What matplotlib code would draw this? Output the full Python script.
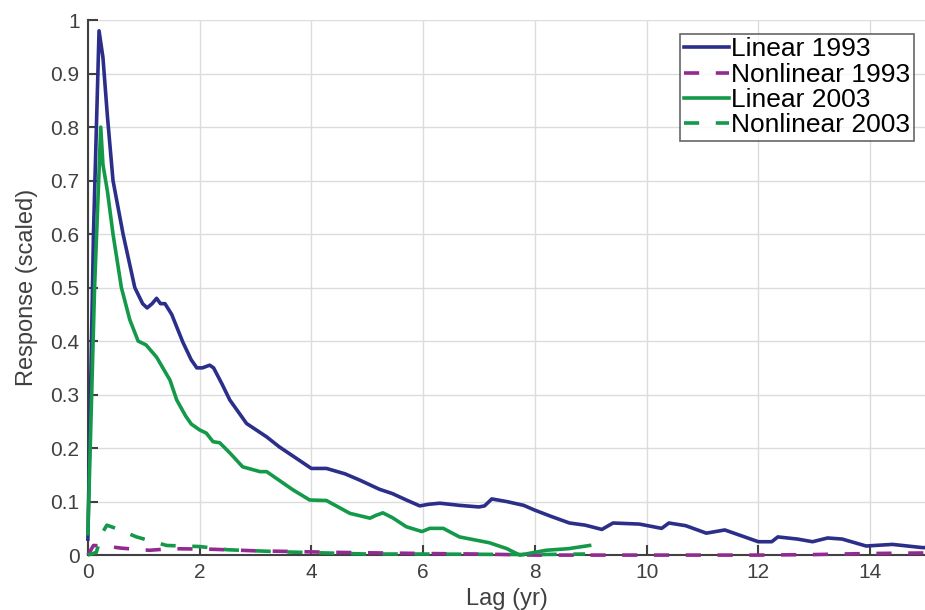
import numpy as np
import matplotlib
matplotlib.use("Agg")
import matplotlib.pyplot as plt

plt.rcParams['font.family'] = ['Liberation Sans', 'DejaVu Sans']

# Linear 1993
lin93_x = [0.0, 0.1, 0.2, 0.27, 0.35, 0.45, 0.63, 0.84, 0.98, 1.06, 1.15, 1.23, 1.3, 1.38, 1.5,
           1.7, 1.85, 1.95, 2.05, 2.18, 2.25, 2.4, 2.54, 2.84, 3.2, 3.43, 3.73, 4.0, 4.27, 4.6,
           4.87, 5.22, 5.45, 5.7, 5.94, 6.1, 6.3, 6.65, 7.0, 7.1, 7.23, 7.5, 7.8, 8.0, 8.3, 8.62,
           8.9, 9.2, 9.4, 9.87, 10.27, 10.4, 10.7, 11.07, 11.4, 11.7, 12.0, 12.24, 12.35, 12.7,
           12.97, 13.24, 13.5, 13.93, 14.4, 14.94, 15.0]
lin93_y = [0.03, 0.6, 0.98, 0.93, 0.82, 0.7, 0.6, 0.5, 0.47, 0.462, 0.47, 0.48, 0.47, 0.47, 0.45,
           0.398, 0.365, 0.35, 0.35, 0.355, 0.35, 0.32, 0.29, 0.246, 0.221, 0.202, 0.181, 0.162, 0.162, 0.152,
           0.14, 0.123, 0.115, 0.103, 0.092, 0.095, 0.097, 0.093, 0.09, 0.092, 0.105, 0.1, 0.093, 0.084, 0.072, 0.06,
           0.056, 0.048, 0.06, 0.058, 0.05, 0.06, 0.055, 0.041, 0.047, 0.036, 0.025, 0.025, 0.034, 0.03,
           0.025, 0.032, 0.03, 0.017, 0.02, 0.014, 0.014]

# Nonlinear 1993
nl93_x = [0.0, 0.1, 0.3, 0.6, 1.1, 1.5, 2.2, 3.0, 4.5, 6.0, 7.0, 8.0, 10.0, 12.0, 13.0, 14.0, 15.0]
nl93_y = [0.0, 0.018, 0.017, 0.013, 0.009, 0.012, 0.011, 0.008, 0.005, 0.003, 0.002, 0.0, 0.0, 0.0, 0.001, 0.003, 0.004]

# Linear 2003
lin03_x = [0.0, 0.12, 0.23, 0.27, 0.35, 0.45, 0.6, 0.75, 0.9, 1.04, 1.23, 1.47, 1.59, 1.75, 1.85,
           2.0, 2.12, 2.24, 2.36, 2.55, 2.77, 3.08, 3.2, 3.67, 3.97, 4.27, 4.69, 5.05, 5.15, 5.28,
           5.45, 5.7, 5.98, 6.12, 6.36, 6.65, 7.19, 7.5, 7.73, 8.2, 8.6, 8.98]
lin03_y = [0.04, 0.5, 0.8, 0.73, 0.68, 0.6, 0.5, 0.44, 0.4, 0.393, 0.37, 0.327, 0.29, 0.26, 0.245,
           0.234, 0.228, 0.212, 0.21, 0.19, 0.165, 0.156, 0.156, 0.122, 0.103, 0.102, 0.078, 0.069, 0.074, 0.079,
           0.07, 0.053, 0.044, 0.05, 0.05, 0.034, 0.023, 0.012, 0.0, 0.009, 0.012, 0.018]

# Nonlinear 2003
nl03_x = [0.0, 0.15, 0.25, 0.34, 0.5, 0.87, 1.41, 2.0, 2.5, 3.5, 5.0, 6.0, 8.0, 8.9]
nl03_y = [0.0, 0.005, 0.04, 0.056, 0.05, 0.034, 0.018, 0.016, 0.01, 0.006, 0.002, 0.002, 0.001, 0.002]

labels = ['Linear 1993', 'Nonlinear 1993', 'Linear 2003', 'Nonlinear 2003']
blue = '#2b2f8a'
purple = '#932a91'
green = '#14994a'

fig = plt.figure(figsize=(9.25, 6.1), dpi=100)
ax = fig.add_axes([0.095, 0.09, 0.906, 0.877])

lw = 2.6
dash = (4.2, 4.6)
kw = dict(lw=lw, zorder=3, clip_on=False)
ax.plot(lin93_x, lin93_y, color=blue, label=labels[0], **kw)
ax.plot(nl93_x, nl93_y, color=purple, dashes=dash, label=labels[1], **kw)
ax.plot(lin03_x, lin03_y, color=green, label=labels[2], **kw)
ax.plot(nl03_x, nl03_y, color=green, dashes=dash, label=labels[3], **kw)

ax.set_xlim(0, 15)
ax.set_ylim(0, 1)
ax.set_xticks(np.arange(0, 15, 2))
ax.set_yticks(np.arange(0, 1.01, 0.1))
ax.set_yticklabels(['0'] + ['%.1f' % v for v in np.arange(0.1, 0.95, 0.1)] + ['1'])
ax.grid(True, color='#dcdcdc', lw=1)
ax.set_axisbelow(True)
for s in ['top', 'right']:
    ax.spines[s].set_visible(False)
for s in ['left', 'bottom']:
    ax.spines[s].set_color('#404040')
    ax.spines[s].set_linewidth(1.5)
ax.tick_params(direction='in', length=7, width=1.5, color='#404040',
               labelcolor='#404040', labelsize=15, pad=6)

ax.set_xlabel('Lag (yr)', fontsize=17, color='#404040', labelpad=4)
ax.set_ylabel('Response (scaled)', fontsize=17, color='#404040', labelpad=9)

leg = ax.legend(loc='upper right', bbox_to_anchor=(0.986, 0.975), fontsize=19,
                frameon=True, fancybox=False, handlelength=1.7, handletextpad=0.08,
                borderpad=0.15, labelspacing=0.05, borderaxespad=0)
leg.get_frame().set_edgecolor('#404040')
leg.get_frame().set_linewidth(1.2)
leg.set_zorder(5)

fig.savefig('out.png', dpi=100)
